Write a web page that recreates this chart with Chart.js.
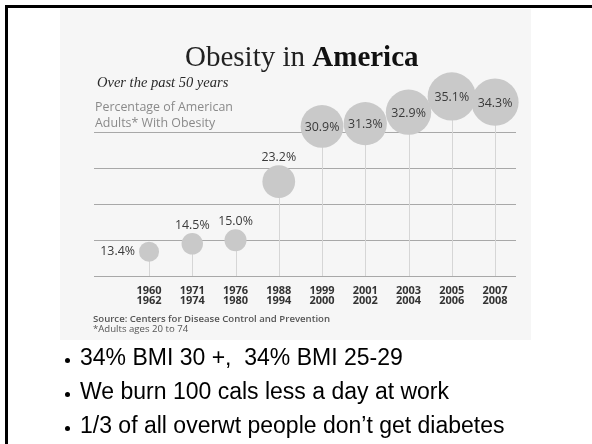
<!DOCTYPE html>
<html>
<head>
<meta charset="utf-8">
<script src="https://cdn.jsdelivr.net/npm/chart.js@4"></script>
<style>
  body { margin: 0; width: 592px; height: 444px; overflow: hidden; background: #fff; position: relative; }
  .frame { position: absolute; left: 5px; top: 5px; width: 700px; height: 600px; border: 3px solid #000; }
  .panel { position: absolute; left: 60px; top: 9px; width: 471px; height: 331px; background: #f6f6f6; }
  #chart { position: absolute; left: 0; top: 0; }
  .title { position: absolute; left: 125px; top: 33px; font: 29px/29px "Liberation Serif", serif; color: #222; white-space: nowrap; }
  .title b { color: #111; }
  .sub { position: absolute; left: 37px; top: 64px; font: italic 14.5px/18px "Liberation Serif", serif; color: #2a2a2a; white-space: nowrap; }
  .desc { position: absolute; left: 35px; top: 90px; font: 12.4px/16px "Open Sans", sans-serif; color: #8a8a8a; white-space: nowrap; }
  .src { position: absolute; left: 33px; top: 305px; font: 600 9.6px/10px "Open Sans", sans-serif; color: #555; white-space: nowrap; }
  .src span { font-weight: 400; }
  .bullets { position: absolute; left: 0; top: 340px; font: 23px/34px "Liberation Sans", Arial, sans-serif; color: #000; }
  .bullets div { position: relative; padding-left: 80px; white-space: pre; }
  .bullets div::before { content: ""; position: absolute; left: 65px; top: 18px; width: 5px; height: 5px; border-radius: 50%; background: #000; }
</style>
</head>
<body>
<div class="frame"></div>
<div class="panel">
  <canvas id="chart" width="471" height="331"></canvas>
  <div class="title">Obesity in <b>America</b></div>
  <div class="sub">Over the past 50 years</div>
  <div class="desc">Percentage of American<br>Adults* With Obesity</div>
  <div class="src">Source: Centers for Disease Control and Prevention<br><span>*Adults ages 20 to 74</span></div>
</div>
<div class="bullets">
  <div>34% BMI 30 +,  34% BMI 25-29</div>
  <div>We burn 100 cals less a day at work</div>
  <div>1/3 of all overwt people don’t get diabetes</div>
</div>
<script>
// survey periods and share of adults with obesity
const periods = [
    ['1960', '1962'], ['1971', '1974'], ['1976', '1980'], ['1988', '1994'], ['1999', '2000'],
    ['2001', '2002'], ['2003', '2004'], ['2005', '2006'], ['2007', '2008']
];
const obesityPct = [13.4, 14.5, 15.0, 23.2, 30.9, 31.3, 32.9, 35.1, 34.3];
const gridValues = [10, 15, 20, 25, 30];

// where each value label sits relative to its bubble
const labelSpot = ['left', 'above', 'above', 'above', 'in', 'in', 'in', 'in', 'in'];

const dropLines = {
    id: 'dropLines',
    beforeDatasetsDraw(chart) {
        const ctx = chart.ctx;
        const base = chart.scales.y.getPixelForValue(10);
        ctx.save();
        ctx.strokeStyle = '#d6d6d6';
        ctx.lineWidth = 1;
        chart.getDatasetMeta(0).data.forEach(pt => {
            const x = Math.round(pt.x) + 0.5;
            ctx.beginPath();
            ctx.moveTo(x, pt.y);
            ctx.lineTo(x, base);
            ctx.stroke();
        });
        ctx.restore();
    }
};

const valueLabels = {
    id: 'valueLabels',
    afterDatasetsDraw(chart) {
        const ctx = chart.ctx;
        ctx.save();
        ctx.font = '12.4px "Open Sans", sans-serif';
        ctx.fillStyle = '#3a3a3a';
        ctx.textBaseline = 'middle';
        chart.getDatasetMeta(0).data.forEach((pt, i) => {
            const r = pt.options.radius;
            const txt = obesityPct[i].toFixed(1) + '%';
            if (labelSpot[i] === 'left') {
                ctx.textAlign = 'right';
                ctx.fillText(txt, pt.x - r - 4, pt.y);
            } else if (labelSpot[i] === 'above') {
                ctx.textAlign = 'center';
                ctx.fillText(txt, pt.x, pt.y - r - 8);
            } else {
                ctx.textAlign = 'center';
                ctx.fillText(txt, pt.x, pt.y + 1);
            }
        });
        ctx.restore();
    }
};

new Chart(document.getElementById('chart'), {
    type: 'bubble',
    data: {
        datasets: [{
            data: obesityPct.map((v, i) => ({ x: i, y: v })),
            backgroundColor: '#c9c9c9',
            borderWidth: 0,
            radius: c => 0.65 * c.raw.y + 1.3,
            hoverRadius: 0,
            clip: false
        }]
    },
    options: {
        responsive: false,
        devicePixelRatio: 1,
        animation: false,
        layout: { autoPadding: false, padding: { left: 34, right: 15, top: 81, bottom: 0 } },
        plugins: { legend: { display: false }, tooltip: { enabled: false } },
        scales: {
            x: {
                type: 'linear',
                min: -1.272,
                max: 8.485,
                afterBuildTicks: s => { s.ticks = periods.map((p, i) => ({ value: i })); },
                afterFit: s => { s.height = 64; },
                grid: { display: false },
                border: { display: false },
                ticks: {
                    autoSkip: false,
                    maxRotation: 0,
                    padding: 2,
                    color: '#333',
                    font: { family: '"Open Sans", sans-serif', size: 11, weight: 'bold', lineHeight: 0.88 },
                    callback: v => periods[v]
                }
            },
            y: {
                min: 10,
                max: 36,
                afterBuildTicks: s => { s.ticks = gridValues.map(v => ({ value: v })); },
                afterFit: s => { s.width = 0; },
                border: { display: false },
                grid: { color: '#a8a8a8', lineWidth: 1, drawTicks: false },
                ticks: { display: false }
            }
        }
    },
    plugins: [dropLines, valueLabels]
});
</script>
</body>
</html>
